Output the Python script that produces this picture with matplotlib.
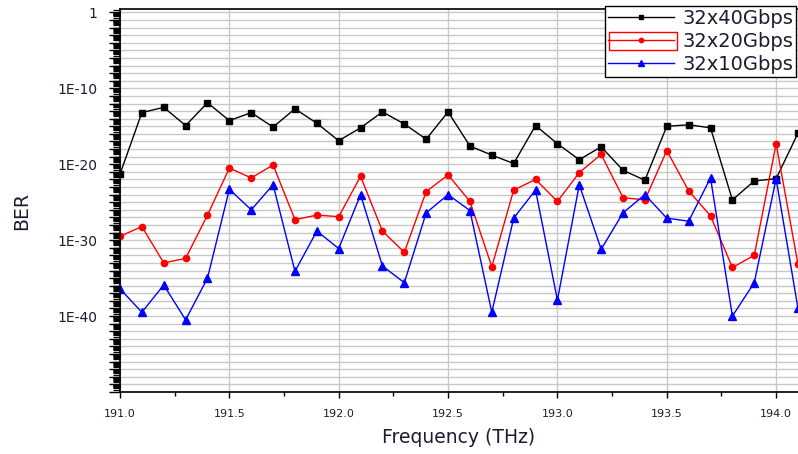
import numpy as np
import matplotlib
matplotlib.use("Agg")
import matplotlib.pyplot as plt
from matplotlib.ticker import FixedLocator, FuncFormatter, LogLocator, NullFormatter, MultipleLocator
from matplotlib.patches import Rectangle

plt.rcParams['font.family'] = ['DejaVu Sans']

freq = np.round(np.arange(191.0, 194.11, 0.1), 1)

# BER exponents (BER = 10**exp)
exp_40g = [-21.3, -13.2, -12.5, -14.9, -11.9, -14.25, -13.2, -15.1, -12.7, -14.6, -16.9,
           -15.2, -13.1, -14.7, -16.7, -13.1, -17.6, -18.8, -19.9, -14.9, -17.3, -19.4,
           -17.7, -20.8, -22.1, -15.0, -14.8, -15.2, -24.7, -22.2, -21.9, -15.9]
exp_20g = [-29.5, -28.2, -33.0, -32.4, -26.7, -20.5, -21.8, -20.1, -27.3, -26.7, -26.9,
           -21.6, -28.8, -31.6, -23.6, -21.4, -24.9, -33.5, -23.4, -22.0, -24.9, -21.1,
           -18.7, -24.4, -24.7, -18.2, -23.5, -26.8, -33.6, -32.0, -17.3, -33.2]
exp_10g = [-36.4, -39.5, -35.9, -40.5, -35.0, -23.3, -26.0, -22.7, -34.1, -28.8, -31.1,
           -24.0, -33.4, -35.6, -26.4, -24.0, -26.1, -39.5, -27.1, -23.4, -37.9, -22.7,
           -31.2, -26.4, -24.0, -27.1, -27.5, -21.8, -40.0, -35.6, -21.9, -39.0]

labels = ['32x40Gbps', '32x20Gbps', '32x10Gbps']
txt_col = '#1c1c30'

fig = plt.figure(figsize=(7.98, 4.54), dpi=100)
ax = fig.add_axes([120 / 798, 62 / 454, 678 / 798, 383 / 454])

ax.plot(freq, 10.0 ** np.array(exp_40g), color='black', lw=1.0, marker='s', ms=5, label=labels[0])
ax.plot(freq, 10.0 ** np.array(exp_20g), color='red', lw=1.0, marker='o', ms=4.5, label=labels[1])
ax.plot(freq, 10.0 ** np.array(exp_10g), color='blue', lw=1.0, marker='^', ms=5.5, label=labels[2])

ax.set_yscale('log')
ax.set_ylim(1e-50, 10 ** 0.45)
ax.set_xlim(191.0, 194.1)


def ylab(v, p):
    k = int(round(np.log10(v)))
    if k % 10 != 0 or k <= -50:
        return ''
    return '1' if k == 0 else '1E%d' % k


ax.yaxis.set_major_locator(FixedLocator([10.0 ** k for k in range(-50, 1)]))
ax.yaxis.set_major_formatter(FuncFormatter(ylab))
ax.yaxis.set_minor_locator(LogLocator(base=10, subs=np.arange(2, 10), numticks=1000))
ax.yaxis.set_minor_formatter(NullFormatter())

ax.xaxis.set_major_locator(MultipleLocator(0.5))
ax.xaxis.set_minor_locator(MultipleLocator(0.25))
ax.xaxis.set_major_formatter(FuncFormatter(lambda v, p: '%.1f' % v))

ax.tick_params(axis='y', which='major', direction='out', length=8, width=1, labelsize=10,
               pad=8, labelcolor=txt_col)
ax.tick_params(axis='y', which='minor', direction='out', length=5, width=0.9)
ax.tick_params(axis='x', which='major', direction='out', length=4, width=1, labelsize=8,
               pad=8, labelcolor=txt_col)
ax.tick_params(axis='x', which='minor', direction='out', length=3, width=1)

ax.grid(True, which='major', axis='both', color='#c8c8c8', lw=1)
ax.set_axisbelow(True)
ax.spines['right'].set_visible(False)
for s in ['left', 'bottom', 'top']:
    ax.spines[s].set_linewidth(1.2)

ax.set_xlabel('Frequency (THz)', fontsize=13.5, color=txt_col)
ax.set_ylabel('BER', fontsize=13.5, color=txt_col)
ax.xaxis.set_label_coords(0.5, -0.119)
ax.xaxis.label.set_va('center')
ax.yaxis.set_label_coords(-0.1445, 0.473)
ax.yaxis.label.set_va('center')

leg = ax.legend(loc='upper right', bbox_to_anchor=(0.997, 1.008), fontsize=14,
                frameon=True, fancybox=False, edgecolor='black', framealpha=1,
                handlelength=3.4, borderpad=0.15, labelspacing=0.2, handletextpad=0.4,
                borderaxespad=0, markerscale=0.7)
leg.get_frame().set_linewidth(1.0)
leg.set_zorder(10)
for t in leg.get_texts():
    t.set_color(txt_col)

# red selection box around the second legend entry's sample
fig.canvas.draw()
r = fig.canvas.get_renderer()
lb = leg.get_frame().get_window_extent(r)
tb = leg.get_texts()[1].get_window_extent(r)
x0 = lb.x0 + 4
x1 = tb.x0 - 5
fig.patches.append(Rectangle((x0 / 798, (tb.y0 + 1) / 454), (x1 - x0) / 798, (tb.height - 1) / 454,
                             transform=fig.transFigure, fill=False, edgecolor='red', lw=1, zorder=20))

fig.savefig('out.png', dpi=100)
